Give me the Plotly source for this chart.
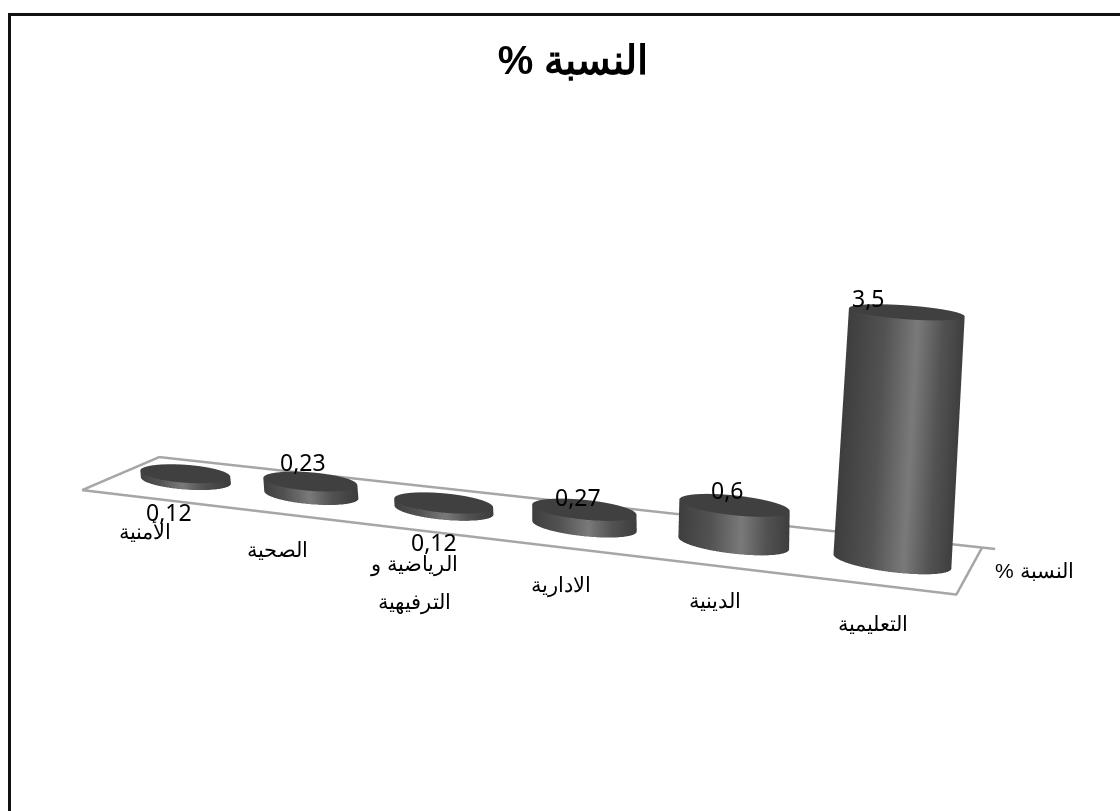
import numpy as np
import plotly.graph_objects as go

categories = ["الأمنية", "الصحية", "الرياضية و<br>الترفيهية", "الادارية", "الدينية", "التعليمية"]
values = [0.12, 0.23, 0.12, 0.27, 0.6, 3.5]
value_text = ["0,12", "0,23", "0,12", "0,27", "0,6", "3,5"]
series_name = "\u200fالنسبة %\u200f"
title_text = "\u200fالنسبة %\u200f"

# geometry of the 3D plot (data units: one category = 1 on x, value on z)
RX, RY = 0.36, 0.22
Y_MID = 0.5
SKEW = 0.24
SHEAR_K, SHEAR_AT = 0.0148, 2.3
TAPER = 0.035
OFFSET = 0.03
FONT = "Liberation Sans"
VAL_FONT = "Noto Sans"
XR, YR, ZR = (0, 6.5), (0, 1), (0, 4)
ASPECT = dict(x=3.04 * 6.5 / 6, y=0.3, z=0.96)

side_scale = [[0, "#3e3e3e"], [0.3, "#525252"], [0.58, "#7a7a7a"], [0.8, "#525252"], [1, "#3e3e3e"]]

fig = go.Figure()
theta = np.linspace(0, 2 * np.pi, 145)
light = dict(ambient=1, diffuse=0, specular=0, roughness=1, fresnel=0)


def center_x(i, v=0.0):
    return i + 0.5 + SKEW / 2 + OFFSET - SHEAR_K * (i - SHEAR_AT) * v


for i, v in enumerate(values):
    rx_top = RX * (1 - TAPER * v)
    X = np.array([center_x(i) + RX * np.cos(theta), center_x(i, v) + rx_top * np.cos(theta)])
    Y = np.array([Y_MID + RY * np.sin(theta)] * 2)
    Z = np.array([np.zeros_like(theta), np.full_like(theta, v)])
    C = np.array([(1 + np.cos(theta)) / 2] * 2)
    fig.add_trace(go.Surface(x=X, y=Y, z=Z, surfacecolor=C, colorscale=side_scale, cmin=0, cmax=1,
                             showscale=False, lighting=light, hoverinfo="skip"))
    r = np.array([0, 1])
    Xc = center_x(i, v) + rx_top * np.outer(r, np.cos(theta))
    Yc = Y_MID + RY * np.outer(r, np.sin(theta))
    Zc = np.full_like(Xc, v)
    fig.add_trace(go.Surface(x=Xc, y=Yc, z=Zc, surfacecolor=np.zeros_like(Xc),
                             colorscale=[[0, "#404040"], [1, "#404040"]], showscale=False,
                             lighting=light, hoverinfo="skip"))

# floor frame, with the small tick at the back right corner
fig.add_trace(go.Scatter3d(x=[6 + SKEW + 0.08, SKEW, 0, 6, 6 + SKEW], y=[1, 1, 0, 0, 1], z=[0, 0, 0, 0, 0], mode="lines",
                           line=dict(color="#a6a6a6", width=5), hoverinfo="skip", showlegend=False))

value_shift = [(-16, -38), (-7, 19), (-9, -39), (-6, 13), (-7, 15), (-38, 14)]
cat_shift = [(-17, -31), (-15, -34), (-15, -33), (-14, -36), (-15, -33), (-23, -36)]
LINE_STEP = 38
ann = []
for i, (v, t, c) in enumerate(zip(values, value_text, categories)):
    ann.append(dict(x=center_x(i, v), y=Y_MID, z=v, text=t, showarrow=False, xshift=value_shift[i][0],
                    yshift=value_shift[i][1], font=dict(family=VAL_FONT, size=23, color="#000000")))
    for j, line in enumerate(c.split("<br>")):
        ann.append(dict(x=center_x(i), y=0, z=0, text=line, showarrow=False, xshift=cat_shift[i][0],
                        yshift=cat_shift[i][1] - LINE_STEP * j, font=dict(family=FONT, size=21, color="#000000")))
ann.append(dict(x=6, y=0.5, z=0, text=series_name, showarrow=False, xshift=85, yshift=-3,
                font=dict(family=FONT, size=21, color="#000000")))

D = 3.2
yaw = np.radians(12.5)
pitch = np.radians(24)
cx, cy, cz = 0.118, 0.0, -0.035
W, H = 1120, 811
fig.update_layout(
    width=W, height=H, margin=dict(l=0, r=0, t=0, b=0), paper_bgcolor="#ffffff", showlegend=False,
    title=dict(text=title_text, x=573 / W, xanchor="center", y=1 - 60 / H, yanchor="middle",
               font=dict(family=FONT, size=40, color="#000000", weight="bold")),
    scene=dict(
        domain=dict(x=[0, 1], y=[0, 1]),
        aspectmode="manual", aspectratio=ASPECT,
        xaxis=dict(range=XR, visible=False), yaxis=dict(range=YR, visible=False), zaxis=dict(range=ZR, visible=False),
        camera=dict(projection=dict(type="perspective"), up=dict(x=0, y=0, z=1),
                    center=dict(x=cx, y=cy, z=cz),
                    eye=dict(x=cx + D * np.sin(yaw) * np.cos(pitch), y=cy - D * np.cos(yaw) * np.cos(pitch),
                             z=cz + D * np.sin(pitch))),
        annotations=ann,
    ),
    shapes=[
        dict(type="line", xref="paper", yref="paper", x0=8 / W, x1=1, y0=1 - 14.5 / H, y1=1 - 14.5 / H,
             line=dict(color="#111111", width=3)),
        dict(type="line", xref="paper", yref="paper", x0=9.5 / W, x1=9.5 / W, y0=0, y1=1 - 13 / H,
             line=dict(color="#111111", width=3)),
    ],
)
fig.write_html("out.html", config=dict(displayModeBar=False),
               post_script="document.body.style.margin='0';document.body.style.overflow='hidden';")
